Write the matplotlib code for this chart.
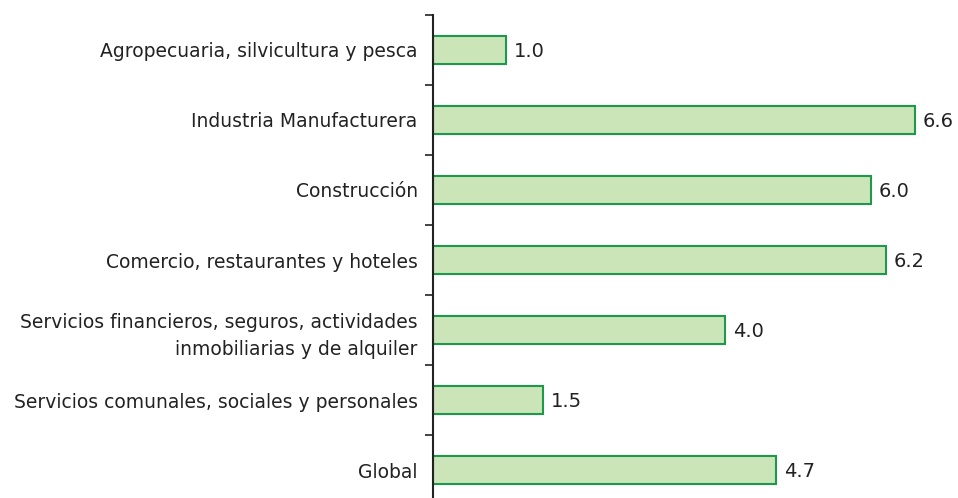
import matplotlib.pyplot as plt

categories = [
    "Agropecuaria, silvicultura y pesca",
    "Industria Manufacturera",
    "Construcción",
    "Comercio, restaurantes y hoteles",
    "Servicios financieros, seguros, actividades\ninmobiliarias y de alquiler",
    "Servicios comunales, sociales y personales",
    "Global",
]
values = [1.0, 6.6, 6.0, 6.2, 4.0, 1.5, 4.7]

fig = plt.figure(figsize=(9.58, 4.98), dpi=100)
ax = fig.add_axes([433 / 958, 0, 511 / 958, 483 / 498])

pos = list(range(len(categories)))
ax.barh(pos, values, height=0.4, color="#cce5b8", edgecolor="#1b9a4b", linewidth=1.5)
for p, v in zip(pos, values):
    ax.text(v + 0.11, p + 0.02, f"{v:.1f}", va="center", ha="left", fontsize=14, color="#222222")

ax.set_yticks(pos)
ax.set_yticklabels(categories, fontsize=13.5, color="#222222", ha="right",
                   multialignment="right", linespacing=1.55)
ax.set_yticks([i - 0.5 for i in range(len(categories) + 1)], minor=True)
ax.set_xticks([])
ax.set_xlim(0, 7)
ax.set_ylim(-0.5 + 483 / 70, -0.5)
ax.tick_params(axis="y", which="major", length=0, pad=11)
ax.tick_params(axis="y", which="minor", length=6, width=1.2, color="#222222")
for s in ["top", "right", "bottom"]:
    ax.spines[s].set_visible(False)
ax.spines["left"].set_linewidth(1.5)
ax.spines["left"].set_color("#222222")

fig.savefig("out.png", dpi=100)
